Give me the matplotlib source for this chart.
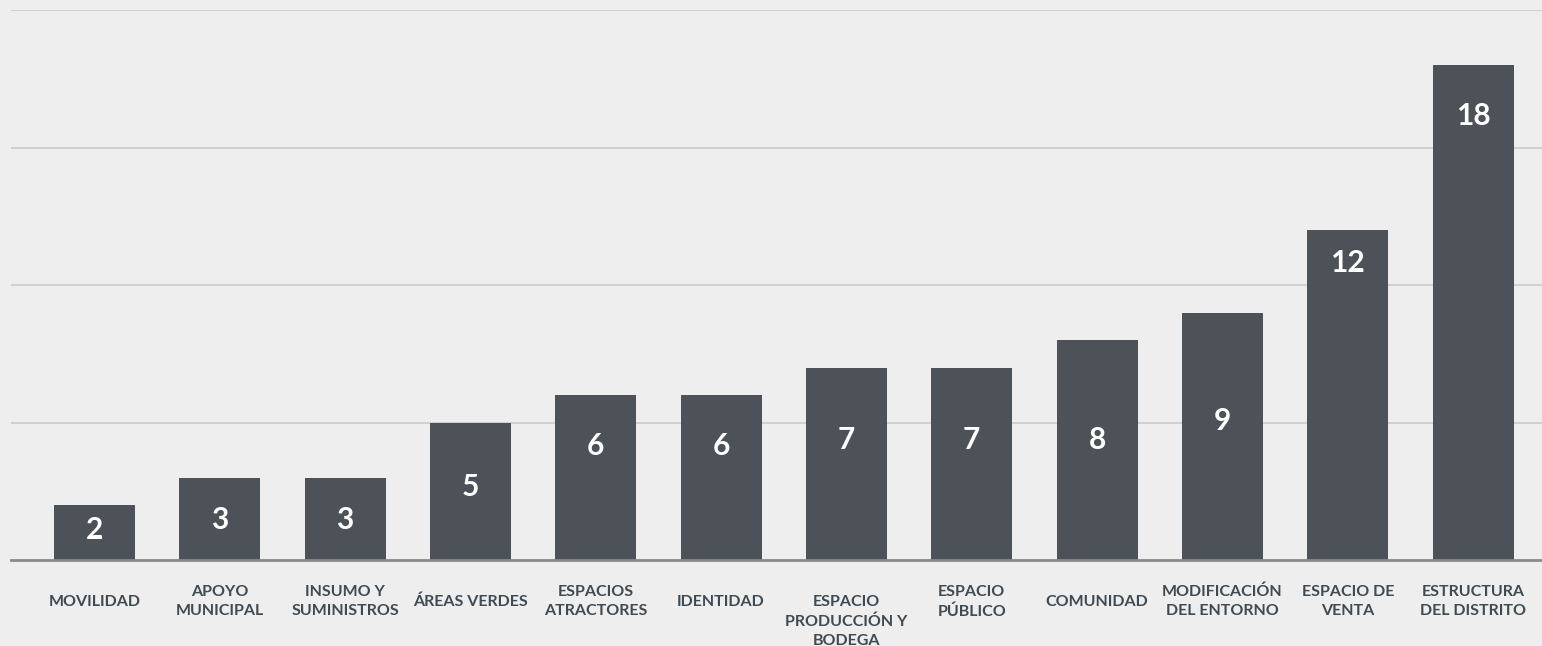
import matplotlib.pyplot as plt
from matplotlib.transforms import ScaledTranslation

# datos
categorias = ['MOVILIDAD', 'APOYO\nMUNICIPAL', 'INSUMO Y\nSUMINISTROS', 'ÁREAS VERDES',
              'ESPACIOS\nATRACTORES', 'IDENTIDAD', 'ESPACIO\nPRODUCCIÓN Y\nBODEGA',
              'ESPACIO\nPÚBLICO', 'COMUNIDAD', 'MODIFICACIÓN\nDEL ENTORNO',
              'ESPACIO DE\nVENTA', 'ESTRUCTURA\nDEL DISTRITO']
valores = [2, 3, 3, 5, 6, 6, 7, 7, 8, 9, 12, 18]
# altura (en unidades del eje) donde va el número dentro de cada barra
pos_etiqueta = [1.1, 1.45, 1.45, 2.66, 4.15, 4.15, 4.37, 4.37, 4.37, 5.06, 10.8, 16.15]

plt.rcParams['font.family'] = ['Lato', 'DejaVu Sans']

fondo = '#eeeeee'
fig = plt.figure(figsize=(15.42, 6.46), dpi=100, facecolor=fondo)
ax = fig.add_axes([0.0071, 0.1331, 0.9929, 0.8514])
ax.set_facecolor(fondo)

x = range(len(valores))
ax.bar(x, valores, width=0.646, color='#4c5258', zorder=3)

for i, (v, p) in enumerate(zip(valores, pos_etiqueta)):
    ax.text(i, p, str(v), ha='center', va='center', color='white',
            fontsize=21.5, fontweight='bold', zorder=4)

ax.set_xlim(-0.666, 11.55)
ax.set_ylim(0, 20)
ax.set_yticks([5, 10, 15, 20])
ax.yaxis.grid(True, color='#cdcdcd', linewidth=1.3, zorder=0)
ax.tick_params(axis='y', left=False, labelleft=False)

ax.set_xticks(list(x))
ax.set_xticklabels(categorias, fontsize=11.5, fontweight='bold', color='#3f4b53',
                   linespacing=1.45, va='center')
ax.tick_params(axis='x', length=0, pad=30)

# la etiqueta de tres líneas queda más abajo
lbl = ax.get_xticklabels()[6]
lbl.set_transform(lbl.get_transform() + ScaledTranslation(0, -0.2, fig.dpi_scale_trans))

for s in ['top', 'right', 'left']:
    ax.spines[s].set_visible(False)
ax.spines['bottom'].set_color('#8a8a8a')
ax.spines['bottom'].set_linewidth(2)
ax.spines['bottom'].set_zorder(5)

fig.savefig('out.png', dpi=100, facecolor=fondo)
